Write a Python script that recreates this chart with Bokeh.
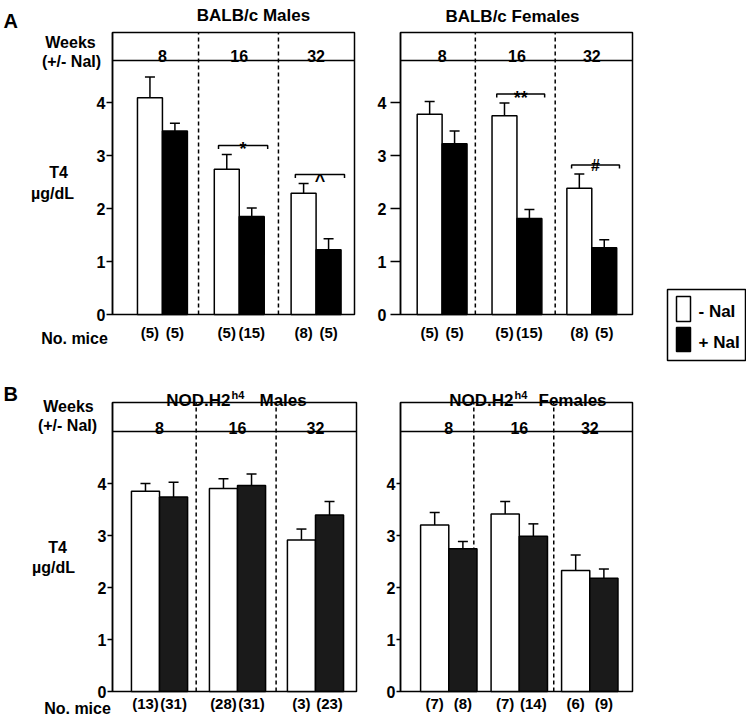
import numpy as np
from bokeh.plotting import figure
from bokeh.layouts import column, row
from bokeh.models import (Range1d, FixedTicker, Label, LabelSet, Whisker, TeeHead,
                          ColumnDataSource)
from bokeh.core.properties import value
from bokeh.embed import file_html
from bokeh.resources import INLINE

FONT = "Liberation Sans"

# ---------------- data ----------------
weeks = ["8", "16", "32"]
y_ticks = [0, 1, 2, 3, 4]
legend_labels = ["- NaI", "+ NaI"]

# BALB/c males
balb_m_minus = [4.09, 2.74, 2.29]
balb_m_minus_sem = [0.39, 0.28, 0.18]
balb_m_plus = [3.46, 1.85, 1.22]
balb_m_plus_sem = [0.15, 0.16, 0.21]
balb_m_n_minus = [5, 5, 8]
balb_m_n_plus = [5, 15, 5]
balb_m_sig = ["", "*", "^"]

# BALB/c females
balb_f_minus = [3.78, 3.75, 2.38]
balb_f_minus_sem = [0.24, 0.24, 0.27]
balb_f_plus = [3.22, 1.81, 1.26]
balb_f_plus_sem = [0.24, 0.17, 0.15]
balb_f_n_minus = [5, 5, 8]
balb_f_n_plus = [5, 15, 5]
balb_f_sig = ["", "**", "#"]

# NOD.H2h4 males
nod_m_minus = [3.86, 3.91, 2.92]
nod_m_minus_sem = [0.15, 0.19, 0.21]
nod_m_plus = [3.75, 3.97, 3.40]
nod_m_plus_sem = [0.28, 0.22, 0.26]
nod_m_n_minus = [13, 28, 3]
nod_m_n_plus = [31, 31, 23]
nod_m_sig = ["", "", ""]

# NOD.H2h4 females
nod_f_minus = [3.21, 3.42, 2.33]
nod_f_minus_sem = [0.24, 0.24, 0.30]
nod_f_plus = [2.75, 2.99, 2.18]
nod_f_plus_sem = [0.14, 0.24, 0.18]
nod_f_n_minus = [7, 7, 6]
nod_f_n_plus = [8, 14, 9]
nod_f_sig = ["", "", ""]

# ---------------- layout (window pixels) ----------------
SIG_STYLE = {"*": (18, 4), "**": (18, 4), "^": (18, 6), "#": (16, 0)}

A1 = dict(minus=balb_m_minus, msem=balb_m_minus_sem, plus=balb_m_plus, psem=balb_m_plus_sem,
          nm=balb_m_n_minus, npl=balb_m_n_plus, sig=balb_m_sig,
          fig=(0, 370, 0, 362), box=(112, 354, 32, 314), xr=(-0.65, 2.5), ppu=53.0,
          header=60, head_base=55, div=(0.47, 1.51), bw=0.325, dark="#000000",
          n_base=337, tick_out=6, standoff=1, legend=False,
          texts=[("A", 3, 20, 20, "left"),
                 ("BALB/c Males", 253, 14.5, 17, "center"),
                 ("Weeks", 70, 41.5, 16, "center"),
                 ("(+/- NaI)", 71, 61, 16, "center"),
                 ("T4", 58, 171.5, 16, "center"),
                 ("\u00b5g/dL", 52, 193, 16, "center"),
                 ("No. mice", 74, 338, 16, "center")])
A2 = dict(minus=balb_f_minus, msem=balb_f_minus_sem, plus=balb_f_plus, psem=balb_f_plus_sem,
          nm=balb_f_n_minus, npl=balb_f_n_plus, sig=balb_f_sig,
          fig=(370, 746, 0, 362), box=(400, 632, 32, 314), xr=(-0.556, 2.544), ppu=53.0,
          header=60, head_base=55, div=(0.444, 1.511), bw=0.333, dark="#000000",
          n_base=337, tick_out=10, standoff=4, legend=True,
          texts=[("BALB/c Females", 512, 15.5, 17, "center")])
B1 = dict(minus=nod_m_minus, msem=nod_m_minus_sem, plus=nod_m_plus, psem=nod_m_plus_sem,
          nm=nod_m_n_minus, npl=nod_m_n_plus, sig=nod_m_sig,
          fig=(0, 370, 362, 716), box=(112, 356, 402, 691), xr=(-0.603, 2.526), ppu=51.9,
          header=431, head_base=427, div=(0.47, 1.495), bw=0.36, dark="#1a1a1a",
          n_base=708, tick_out=5, standoff=1, legend=False,
          texts=[("B", 3, 393, 20, "left"),
                 ("NOD.H2", 230, 400, 17, "right"),
                 ("h4", 231, 394, 11, "left"),
                 ("Males", 259, 400, 17, "left"),
                 ("Weeks", 68, 406, 16, "center"),
                 ("(+/- NaI)", 67, 425, 16, "center"),
                 ("T4", 57, 546.5, 16, "center"),
                 ("\u00b5g/dL", 53, 567, 16, "center"),
                 ("No. mice", 77, 708, 16, "center")])
B2 = dict(minus=nod_f_minus, msem=nod_f_minus_sem, plus=nod_f_plus, psem=nod_f_plus_sem,
          nm=nod_f_n_minus, npl=nod_f_n_plus, sig=nod_f_sig,
          fig=(370, 746, 362, 716), box=(400, 632, 402, 691), xr=(-0.685, 2.606), ppu=51.9,
          header=431, head_base=427, div=(0.355, 1.489), bw=0.40, dark="#1a1a1a",
          n_base=708, tick_out=4, standoff=1, legend=False,
          texts=[("NOD.H2", 513, 399.5, 17, "right"),
                 ("h4", 514, 394, 11, "left"),
                 ("Females", 538, 399.5, 17, "left")])

# legend geometry (window px): box, swatches, text anchors
LEG_BOX = (667, 745, 289, 360)
LEG_SWATCH = [(676, 690, 296, 321), (676, 690, 327, 351)]
LEG_TEXT = [(698, 311), (698, 342)]


def build(cfg):
    fx0, fx1, fy0, fy1 = cfg["fig"]
    L, R, T, B = cfg["box"]
    xs, xe = cfg["xr"]
    ppu = cfg["ppu"]
    kx = (xe - xs) / (R - L)

    def X(px):
        return xs + (px - L) * kx

    def Y(py):
        return (B - py) / ppu

    top = Y(T)
    p = figure(width=fx1 - fx0, height=fy1 - fy0, title=None,
               x_range=Range1d(X(fx0), X(fx1)), y_range=Range1d(Y(fy1), Y(fy0)),
               x_axis_type=None, output_backend="svg", toolbar_location=None,
               min_border=0, outline_line_color=None,
               background_fill_color="white", border_fill_color="white")
    p.ygrid.grid_line_color = None

    ax = p.yaxis[0]
    ax.fixed_location = X(L)
    ax.bounds = (0, top)
    ax.ticker = FixedTicker(ticks=y_ticks)
    ax.axis_line_color = "black"
    ax.axis_line_width = 1.5
    ax.major_tick_line_color = "black"
    ax.major_tick_line_width = 1.5
    ax.major_tick_in = 0
    ax.major_tick_out = cfg["tick_out"]
    ax.minor_tick_line_color = None
    ax.major_label_standoff = cfg["standoff"]
    ax.major_label_text_font = FONT
    ax.major_label_text_font_style = "bold"
    ax.major_label_text_font_size = "16px"
    ax.major_label_text_color = "black"

    # dashed week dividers (under the bars)
    divs = list(cfg["div"])
    p.segment(x0=divs, y0=[0] * len(divs), x1=divs, y1=[top] * len(divs),
              line_color="black", line_width=1.5, line_dash="4 3")
    # header line and box
    p.segment(x0=[X(L)], y0=[Y(cfg["header"])], x1=[X(R)], y1=[Y(cfg["header"])],
              line_color="black", line_width=1.5)
    p.quad(left=[X(L)], right=[X(R)], bottom=[0], top=[top], fill_color=None,
           line_color="black", line_width=1.5)

    g = np.arange(len(weeks), dtype=float)
    bw = cfg["bw"]
    xm = g - bw / 2
    xp = g + bw / 2
    minus = np.array(cfg["minus"])
    plus = np.array(cfg["plus"])
    msem = np.array(cfg["msem"])
    psem = np.array(cfg["psem"])

    p.vbar(x=xm, top=minus, width=bw, fill_color="white", line_color="black", line_width=1.5)
    p.vbar(x=xp, top=plus, width=bw, fill_color=cfg["dark"], line_color="black", line_width=1.5)

    src = ColumnDataSource(dict(x=np.concatenate([xm, xp]),
                                lo=np.concatenate([minus, plus]),
                                hi=np.concatenate([minus + msem, plus + psem])))
    p.add_layout(Whisker(source=src, base="x", lower="lo", upper="hi",
                         upper_head=TeeHead(size=10, line_width=1.5, line_color="black"),
                         lower_head=None, line_width=1.5, line_color="black"))

    # number of mice under each bar
    ns = list(cfg["nm"]) + list(cfg["npl"])
    nsrc = ColumnDataSource(dict(x=np.concatenate([xm, xp]),
                                 y=[Y(cfg["n_base"])] * len(ns),
                                 t=[f"({n})" for n in ns]))
    p.add_layout(LabelSet(x="x", y="y", text="t", source=nsrc, text_align="center",
                          text_baseline="alphabetic", text_font=value(FONT),
                          text_font_style="bold", text_font_size="15px", text_color="black"))

    # week headers
    for i, w in enumerate(weeks):
        p.add_layout(Label(x=g[i], y=Y(cfg["head_base"]), text=w, text_align="center",
                           text_baseline="alphabetic", text_font=FONT, text_font_style="bold",
                           text_font_size="16px", text_color="black"))

    # significance brackets
    tick = 3.5 / ppu
    for i, s in enumerate(cfg["sig"]):
        if not s:
            continue
        lvl = max(minus[i] + msem[i], plus[i] + psem[i]) + 0.17
        x0, x1 = g[i] - 0.27, g[i] + 0.37
        p.line([x0, x0, x1, x1], [lvl - tick, lvl, lvl, lvl - tick],
               line_color="black", line_width=1.5)
        size, off = SIG_STYLE[s]
        p.add_layout(Label(x=(x0 + x1) / 2, y=lvl - off / ppu, text=s, text_align="center",
                           text_baseline="alphabetic", text_font=FONT, text_font_style="bold",
                           text_font_size=f"{size}px", text_color="black"))

    for text, px, py, size, align in cfg["texts"]:
        p.add_layout(Label(x=X(px), y=Y(py), text=text, text_align=align,
                           text_baseline="alphabetic", text_font=FONT, text_font_style="bold",
                           text_font_size=f"{size}px", text_color="black"))

    if cfg["legend"]:
        bx0, bx1, by0, by1 = LEG_BOX
        p.quad(left=[X(bx0)], right=[X(bx1)], top=[Y(by0)], bottom=[Y(by1)],
               fill_color="white", line_color="black", line_width=1.5)
        fills = ["white", cfg["dark"]]
        for (sx0, sx1, sy0, sy1), fc in zip(LEG_SWATCH, fills):
            p.quad(left=[X(sx0)], right=[X(sx1)], top=[Y(sy0)], bottom=[Y(sy1)],
                   fill_color=fc, line_color="black", line_width=1.5)
        p.text(x=[X(t[0]) for t in LEG_TEXT], y=[Y(t[1]) for t in LEG_TEXT],
               text=legend_labels, text_font=value(FONT), text_font_style="bold",
               text_font_size="17px", text_baseline="middle", text_align="left",
               text_color="black")
    return p


pA1 = build(A1)
pA2 = build(A2)
pB1 = build(B1)
pB2 = build(B2)

layout = column(row(pA1, pA2), row(pB1, pB2))

open("out.html", "w").write(file_html(layout, INLINE))
